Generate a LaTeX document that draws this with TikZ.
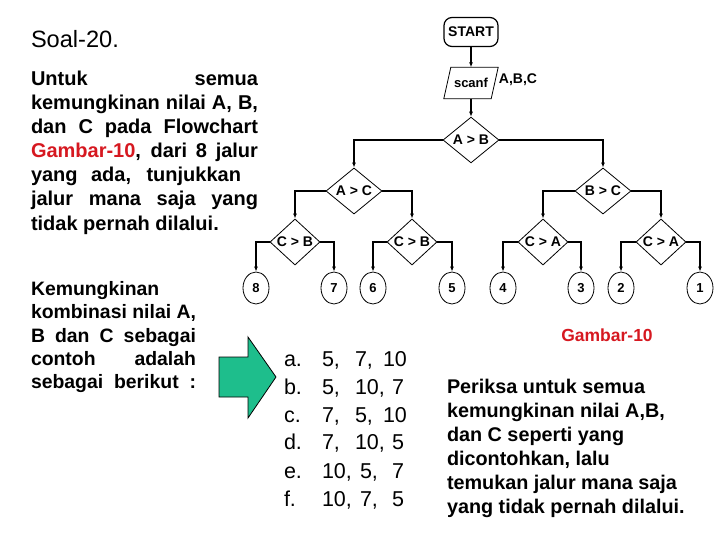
\documentclass[tikz,border=0pt]{standalone}
\usepackage{fontspec}
\setmainfont{Liberation Sans}
\usetikzlibrary{shapes.geometric,arrows.meta}
\definecolor{arrowgreen}{RGB}{30,190,140}
\definecolor{gred}{RGB}{214,24,32}
\newcommand\myfs[1]{\fontsize{#1}{#1}\selectfont}
\begin{document}
\begin{tikzpicture}[x=1pt,y=-1pt,
  txt/.style={anchor=base west, inner sep=0, outer sep=0},
  parA/.style={txt, font=\myfs{20}\bfseries},
  parB/.style={txt, font=\myfs{19.4}\bfseries},
  parC/.style={txt, font=\myfs{19.8}\bfseries},
  lst/.style={txt, font=\myfs{21.5}},
  term/.style={draw, rounded corners=8pt, minimum width=54pt, minimum height=29pt, inner sep=0, font=\myfs{14}\bfseries, line width=1.2pt},
  dec/.style={draw, diamond, minimum width=56pt, minimum height=40pt, inner sep=0, font=\myfs{14}\bfseries, line width=0.8pt},
  decs/.style={dec, minimum width=50pt},
  outnode/.style={draw, ellipse, minimum width=26pt, minimum height=32pt, inner sep=0, font=\myfs{13}\bfseries, line width=0.8pt},
  conn/.style={line width=1.2pt, -{Latex[length=5pt,width=4pt]}}
]
\useasboundingbox (0,0) rectangle (720,540);

% title and left paragraph
\node[txt, font=\myfs{23.6}] (title) at (31,48) {Soal-20.};
\node[parA] (p1) at (31,86) {\makebox[227pt][s]{Untuk semua}};
\node[parA] (p2) at (31,110) {\makebox[227pt][s]{kemungkinan nilai A, B,}};
\node[parA] (p3) at (31,134) {\makebox[227pt][s]{dan C pada Flowchart}};
\node[parA] (p4) at (31,158) {\makebox[227pt][s]{\textcolor{gred}{Gambar-10}, dari 8 jalur}};
\node[parA] (p5) at (31,182) {\makebox[210pt][s]{yang ada, tunjukkan}};
\node[parA] (p6) at (31,206) {\makebox[227pt][s]{jalur mana saja yang}};
\node[parA] (p7) at (31,230) {tidak pernah dilalui.};

% second left block
\node[parB] (q1) at (31,295) {Kemungkinan};
\node[parB] (q2) at (31,318) {\makebox[165pt][s]{kombinasi nilai A,}};
\node[parB] (q3) at (31,342) {\makebox[165pt][s]{B dan C sebagai}};
\node[parB] (q4) at (31,365) {\makebox[165pt][s]{contoh adalah}};
\node[parB] (q5) at (31,388) {\makebox[165pt][s]{sebagai berikut :}};

% flowchart
\node[term] (start) at (471,32) {START};
\node[minimum width=47pt, minimum height=31pt, inner sep=0, font=\myfs{13}\bfseries] (scanf) at (471,83) {scanf};
\draw[line width=0.8pt] ([xshift=3.5pt]scanf.north west) -- ([xshift=3.5pt]scanf.north east)
  -- ([xshift=-3.5pt]scanf.south east) -- ([xshift=-3.5pt]scanf.south west) -- cycle;
\node[font=\myfs{14}\bfseries, inner sep=0] (abc) at (518,80) {A,B,C};

\node[dec] (AB) at (471,140) {A > B};
\node[dec] (AC) at (354,191) {A > C};
\node[dec] (BC) at (603,191) {B > C};
\node[decs] (CB1) at (295,242) {C > B};
\node[decs] (CB2) at (412,242) {C > B};
\node[decs] (CA1) at (543,242) {C > A};
\node[decs] (CA2) at (661,242) {C > A};

\node[outnode] (o8) at (256,288) {8};
\node[outnode] (o7) at (334,288) {7};
\node[outnode] (o6) at (373,288) {6};
\node[outnode] (o5) at (452,288) {5};
\node[outnode] (o4) at (503,288) {4};
\node[outnode] (o3) at (581,288) {3};
\node[outnode] (o2) at (621,288) {2};
\node[outnode] (o1) at (700,288) {1};

\draw[conn] (start) -- (scanf.north);
\draw[conn] (scanf.south) -- (AB.north);
\draw[conn] (AB.west) -| (AC.north);
\draw[conn] (AB.east) -| (BC.north);
\draw[conn] (AC.west) -| (CB1.north);
\draw[conn] (AC.east) -| (CB2.north);
\draw[conn] (BC.west) -| (CA1.north);
\draw[conn] (BC.east) -| (CA2.north);
\draw[conn] (CB1.west) -| (o8.north);
\draw[conn] (CB1.east) -| (o7.north);
\draw[conn] (CB2.west) -| (o6.north);
\draw[conn] (CB2.east) -| (o5.north);
\draw[conn] (CA1.west) -| (o4.north);
\draw[conn] (CA1.east) -| (o3.north);
\draw[conn] (CA2.west) -| (o2.north);
\draw[conn] (CA2.east) -| (o1.north);

\node[font=\myfs{17.5}\bfseries, text=gred, inner sep=0] (gambar) at (607,335) {Gambar-10};

% green arrow
\filldraw[fill=arrowgreen, draw=black, line width=0.8pt]
  (219,357) -- (248,357) -- (248,337) -- (276,377) -- (248,418) -- (248,397) -- (219,397) -- cycle;

% list
\foreach \y/\l/\a/\b/\bx/\c/\cx in {366/a./{5,}/{7,}/355/10/383, 394/b./{5,}/{10,}/355/7/392, 422/c./{7,}/{5,}/355/10/383, 449/d./{7,}/{10,}/355/5/392, 478/e./{10,}/{5,}/360/7/392, 506/f./{10,}/{7,}/360/5/392}{
  \node[lst] at (284,\y) {\l};
  \node[lst] at (322,\y) {\a};
  \node[lst] at (\bx,\y) {\b};
  \node[lst] at (\cx,\y) {\c};
}

% right paragraph
\node[parC] (r1) at (447,393) {Periksa untuk semua};
\node[parC] (r2) at (447,417) {kemungkinan nilai A,B,};
\node[parC] (r3) at (447,441) {dan C seperti yang};
\node[parC] (r4) at (447,465) {dicontohkan, lalu};
\node[parC] (r5) at (447,489) {temukan jalur mana saja};
\node[parC] (r6) at (447,513) {yang tidak pernah dilalui.};
\end{tikzpicture}
\end{document}
